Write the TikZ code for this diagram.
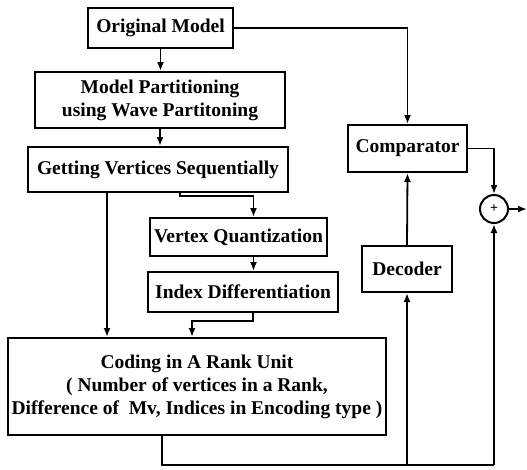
\documentclass[tikz,border=0pt]{standalone}
\usepackage{fontspec}
\setmainfont{Liberation Serif}
\usetikzlibrary{arrows.meta}
\begin{document}
\begin{tikzpicture}[x=1pt,y=-1pt,
		blk/.style={draw,line width=2pt,align=center,inner sep=1pt,
			font=\fontsize{19.5}{23}\selectfont\bfseries},
		arr/.style={-{Latex[length=9pt,width=7pt]},line width=1.8pt},
		ln/.style={line width=1.8pt}]
		\useasboundingbox (0,0) rectangle (527,469);
		% encoder column
		\node[blk,minimum width=145,minimum height=40] (om) at (160.5,28) {Original Model};
		\node[blk,minimum width=250,minimum height=56] (mp) at (160,100) {Model Partitioning\\using Wave Partitoning};
		\node[blk,minimum width=260,minimum height=45] (gv) at (158,169.5) {Getting Vertices Sequentially};
		\node[blk,minimum width=177,minimum height=38] (vq) at (238.5,237) {Vertex Quantization};
		\node[blk,minimum width=190,minimum height=40] (id) at (243,292) {Index Differentiation};
		\node[blk,minimum width=378,minimum height=97] (cd) at (197,386.5) {Coding in A Rank Unit\\( Number of vertices in a Rank,\\Difference of~ Mv, Indices in Encoding type )};
		% decoder side
		\node[blk,minimum width=119,minimum height=47] (cmp) at (407.5,148.5) {Comparator};
		\node[blk,minimum width=90,minimum height=46] (dec) at (407,269) {Decoder};
		\node[draw,circle,line width=2pt,minimum size=28,inner sep=0pt,font=\fontsize{14}{14}\selectfont\bfseries] (sum) at (494,209) {+};
		\coordinate (bus) at (494,465);
		\coordinate (out) at (527,209);
		% arrows down the left column
		\draw[arr] (om.south) -- (om.south |- mp.north);
		\draw[arr] (mp.south) -- (mp.south |- gv.north);
		\draw[arr] ([xshift=-51]gv.south) -- ([xshift=-51]gv.south |- cd.north);
		\draw[arr] ([xshift=22]gv.south) -- ++(0,3) -| ([xshift=15]vq.north);
		\draw[arr] ([xshift=15]vq.south) -- ([xshift=15]vq.south |- id.north);
		\draw[arr] ([xshift=10]id.south) -- ++(0,8) -| ([xshift=-5]cd.north);
		% feedback loop
		\draw[arr] (om.east) -| (cmp.north);
		\draw[ln] ([xshift=-35]cd.south) |- (bus);
		\draw[arr] (dec.south |- bus) -- (dec.south);
		\draw[arr] (dec.north) -- (cmp.south);
		\draw[arr] (cmp.east) -| (sum.north);
		\draw[arr] (bus) -- (sum.south);
		\draw[arr] (sum.east) -- (out);
\end{tikzpicture}
\end{document}
